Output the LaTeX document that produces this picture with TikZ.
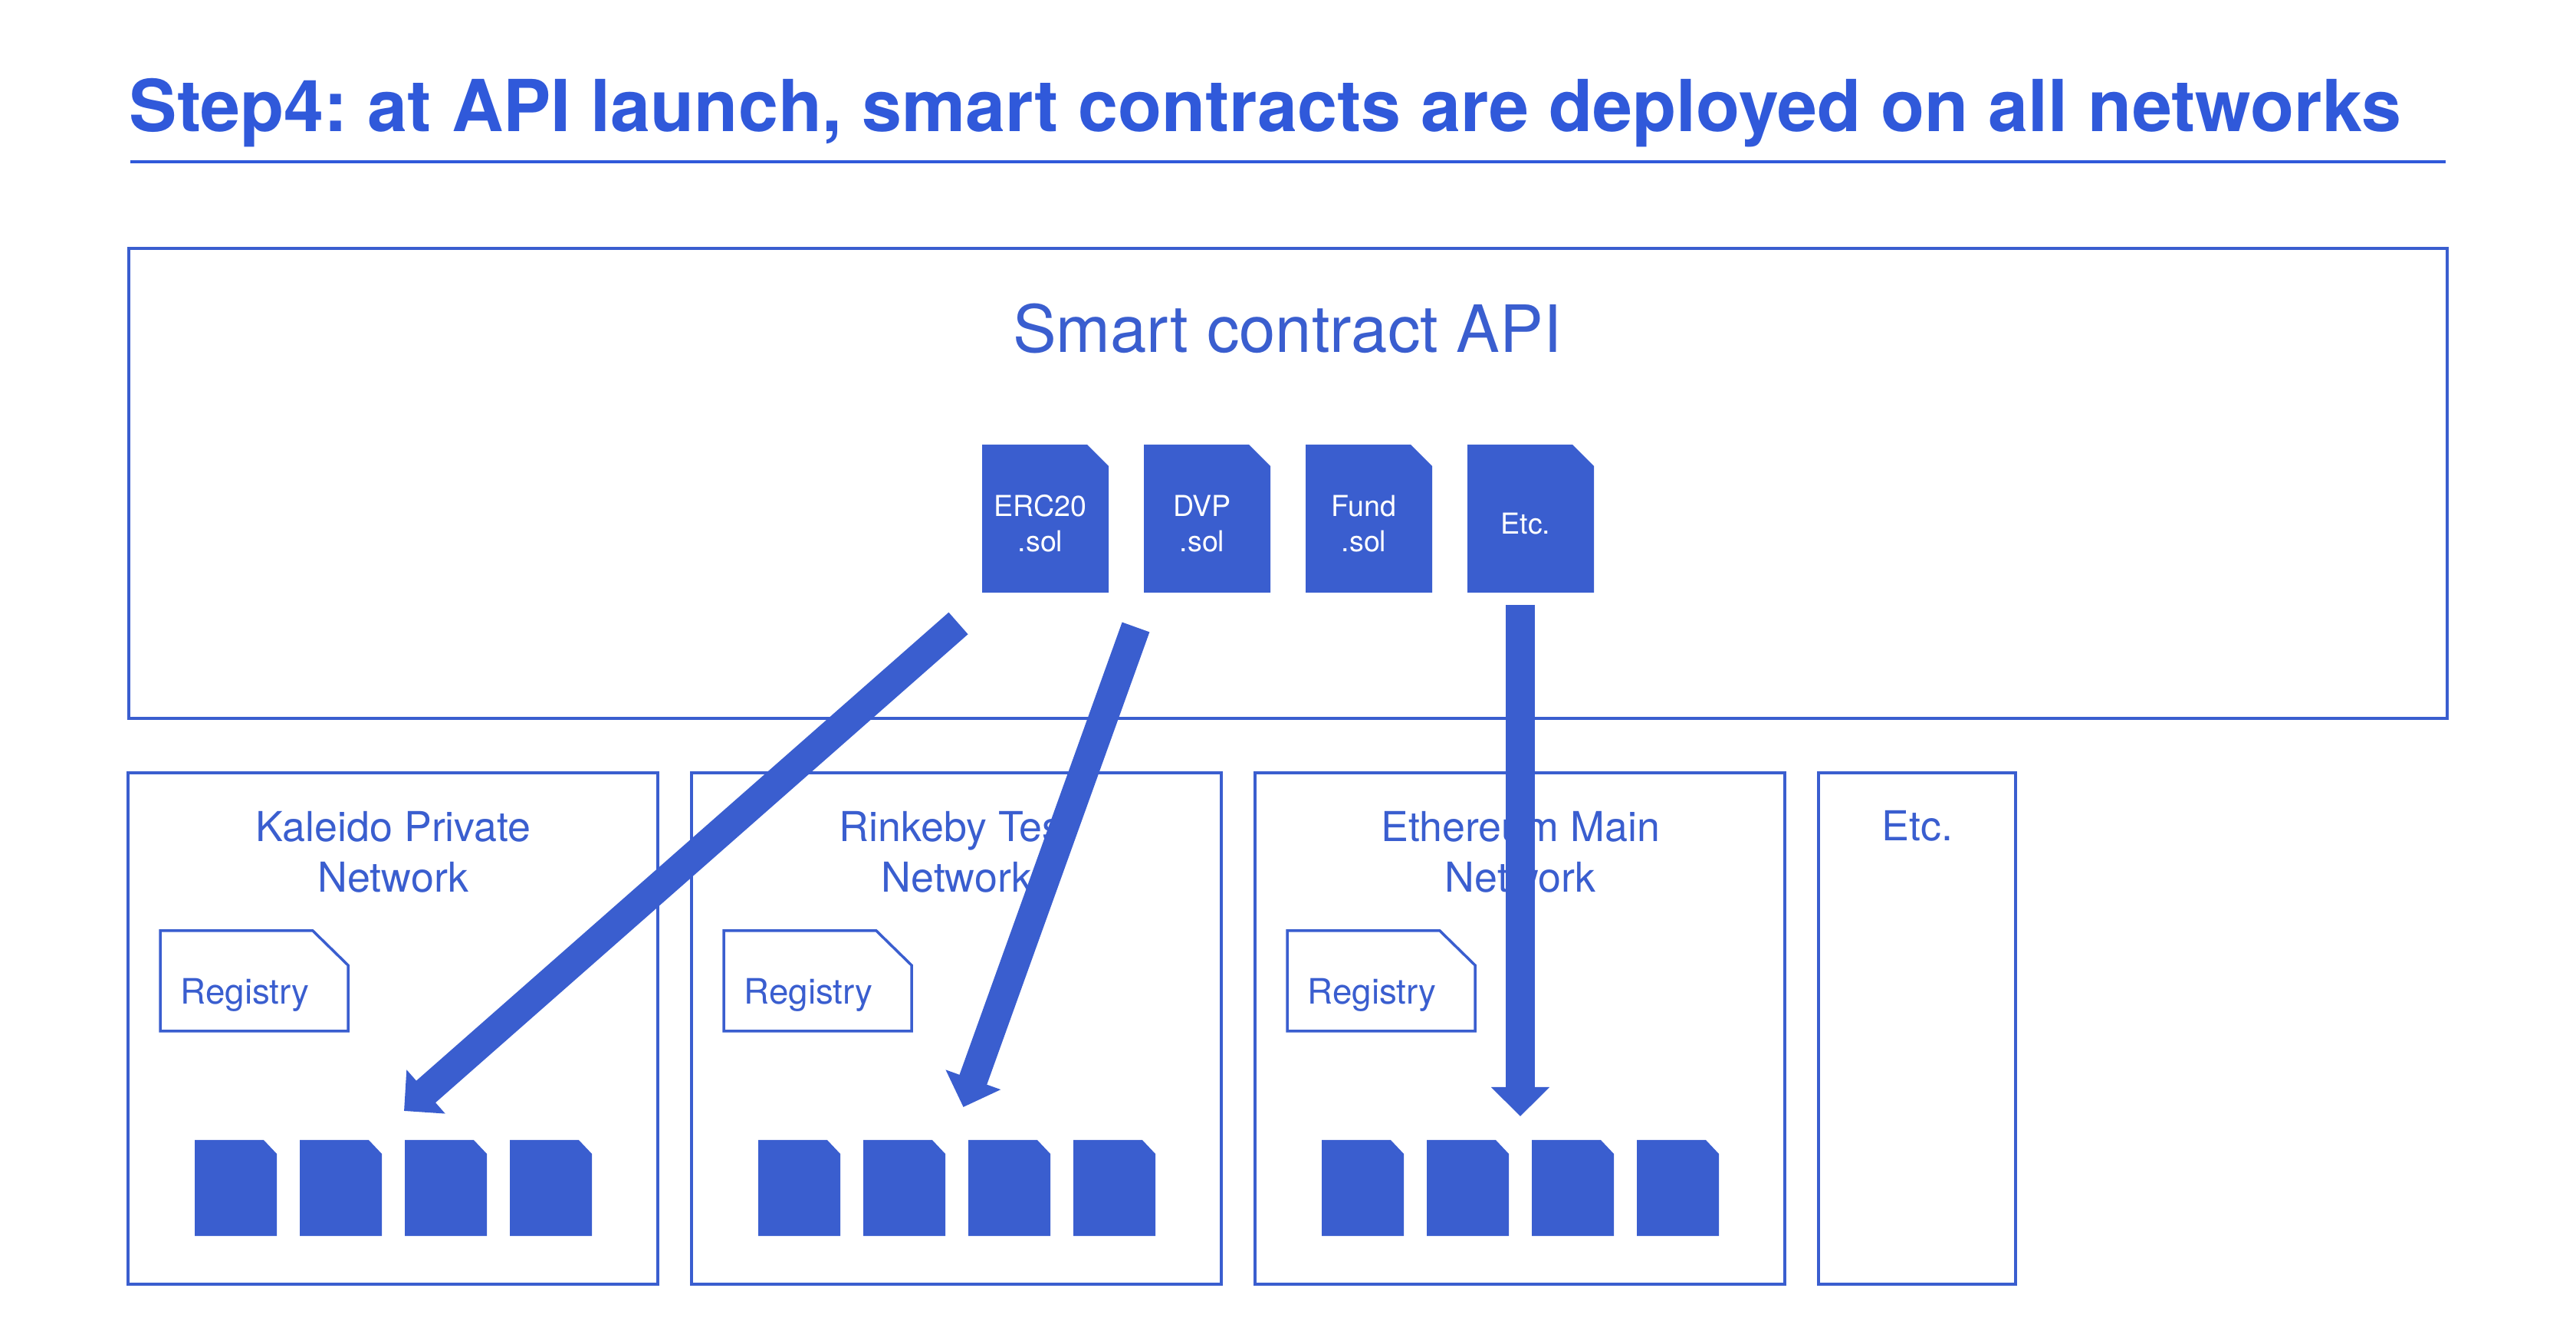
\documentclass[tikz,border=0pt]{standalone}
\usepackage{fontspec}
\setmainfont{TeX Gyre Heros}
\usetikzlibrary{arrows.meta}
\definecolor{titleblue}{HTML}{3059DA}
\definecolor{lineblue}{HTML}{3A5ECF}
\tikzset{
  cutdoc/.style n args={3}{rectangle, inner sep=0, outer sep=0, anchor=north west,
    append after command={\pgfextra{\path [#1] (\tikzlastnode.south west) -- (\tikzlastnode.north west) -- ([xshift=-#2]\tikzlastnode.north east) -- ([yshift=-#3]\tikzlastnode.north east) -- (\tikzlastnode.south east) -- cycle;}}},
  panel/.style={draw=lineblue, line width=.035cm, inner sep=0, outer sep=0, anchor=north west},
  paneltext/.style={text=lineblue, align=center, font=\fontsize{15.3pt}{18.8pt}\selectfont},
  soldoc/.style={cutdoc={fill=lineblue}{.28cm}{.28cm}, minimum width=1.65cm, minimum height=1.93cm},
  soltext/.style={text=white, align=center, font=\fontsize{10.7pt}{13.2pt}\selectfont},
  smalldoc/.style={cutdoc={fill=lineblue}{.17cm}{.18cm}, minimum width=1.07cm, minimum height=1.25cm},
  regdoc/.style={cutdoc={draw=lineblue, line width=.035cm}{.46cm}{.45cm}, minimum width=2.45cm, minimum height=1.31cm},
  regtext/.style={text=lineblue, anchor=base west, inner sep=0, font=\fontsize{13pt}{15pt}\selectfont},
  deploy/.style={draw=lineblue, line width=.38cm, -{Triangle[width=.74cm,length=.38cm]}}
}
\begin{document}
\begin{tikzpicture}
\useasboundingbox (0,0) rectangle (33.6,17.52);

\node [anchor=base west, inner sep=0, text=titleblue, font=\fontsize{26.6pt}{30pt}\selectfont\bfseries\frenchspacing] (title) at (1.68, 15.80) {Step4: at API launch, smart contracts are deployed on all networks};
\coordinate (ruleleft) at (1.70, 15.41);
\coordinate (ruleright) at (31.90, 15.41);
\draw [titleblue, line width=.035cm] (ruleleft) -- (ruleright);

\node [panel, minimum width=30.24cm, minimum height=6.13cm] (api) at (1.68, 14.28) {};
\node [text=lineblue, font=\fontsize{24.2pt}{28pt}\selectfont] (apitext) at (16.79, 13.23) {Smart contract API};

\node [soldoc] (erc) at (12.81, 11.72) {};
\node [soldoc] (dvp) at (14.92, 11.72) {};
\node [soldoc] (fund) at (17.03, 11.72) {};
\node [soldoc] (etcsol) at (19.14, 11.72) {};
\node [soltext] (erctext) at (13.57, 10.69) {ERC20\\.sol};
\node [soltext] (dvptext) at (15.68, 10.69) {DVP\\.sol};
\node [soltext] (fundtext) at (17.79, 10.69) {Fund\\.sol};
\node [soltext] (etctext) at (19.90, 10.69) {Etc.};

\node [panel, minimum width=6.91cm, minimum height=6.67cm] (kaleido) at (1.67, 7.44) {};
\node [panel, minimum width=6.91cm, minimum height=6.67cm] (rinkeby) at (9.02, 7.44) {};
\node [panel, minimum width=6.91cm, minimum height=6.67cm] (ethereum) at (16.37, 7.44) {};
\node [panel, minimum width=2.57cm, minimum height=6.67cm] (etcnet) at (23.72, 7.44) {};
\node [paneltext] (kaleidotext) at (5.13, 6.41) {Kaleido Private\\Network};
\node [paneltext] (rinkebytext) at (12.48, 6.41) {Rinkeby Test\\Network};
\node [paneltext] (ethereumtext) at (19.83, 6.41) {Ethereum Main\\Network};
\node [paneltext] (etcnettext) at (25.01, 6.75) {Etc.};

\node [regdoc] (regone) at (2.09, 5.38) {};
\node [regdoc] (regtwo) at (9.44, 5.38) {};
\node [regdoc] (regthree) at (16.79, 5.38) {};
\node [regtext] (regonetext) at (2.35, 4.42) {Registry};
\node [regtext] (regtwotext) at (9.70, 4.42) {Registry};
\node [regtext] (regthreetext) at (17.05, 4.42) {Registry};

\node [smalldoc] (kalone) at (2.54, 2.65) {};
\node [smalldoc] (kaltwo) at (3.91, 2.65) {};
\node [smalldoc] (kalthree) at (5.28, 2.65) {};
\node [smalldoc] (kalfour) at (6.65, 2.65) {};
\node [smalldoc] (rinkone) at (9.89, 2.65) {};
\node [smalldoc] (rinktwo) at (11.26, 2.65) {};
\node [smalldoc] (rinkthree) at (12.63, 2.65) {};
\node [smalldoc] (rinkfour) at (14.00, 2.65) {};
\node [smalldoc] (ethone) at (17.24, 2.65) {};
\node [smalldoc] (ethtwo) at (18.61, 2.65) {};
\node [smalldoc] (eththree) at (19.98, 2.65) {};
\node [smalldoc] (ethfour) at (21.35, 2.65) {};

\coordinate (ercout) at (12.50, 9.39);
\coordinate (kalin) at (5.27, 3.03);
\coordinate (dvpout) at (14.815, 9.34);
\coordinate (rinkin) at (12.565, 3.08);
\coordinate (etcout) at (19.83, 9.63);
\coordinate (ethin) at (19.83, 2.96);
\draw [deploy] (ercout) -- (kalin);
\draw [deploy] (dvpout) -- (rinkin);
\draw [deploy] (etcout) -- (ethin);
\end{tikzpicture}
\end{document}
